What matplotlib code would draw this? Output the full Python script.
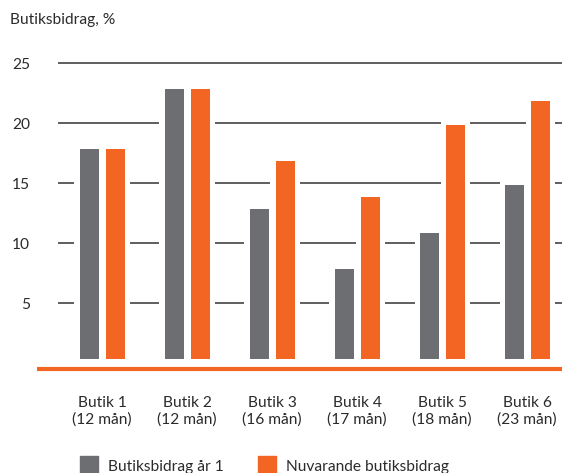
import matplotlib
matplotlib.use("Agg")
import matplotlib.pyplot as plt
from matplotlib.patches import Rectangle
import numpy as np

plt.rcParams['font.family'] = ['Lato', 'DejaVu Sans']

# Data
butiker = ["Butik 1", "Butik 2", "Butik 3", "Butik 4", "Butik 5", "Butik 6"]
manader = ["12 mån", "12 mån", "16 mån", "17 mån", "18 mån", "23 mån"]
bidrag_ar1 = [17.8, 22.8, 12.8, 7.8, 10.8, 14.8]
bidrag_nu = [17.8, 22.8, 16.8, 13.8, 19.8, 21.8]
serie_namn = ["Butiksbidrag år 1", "Nuvarande butiksbidrag"]
y_ticks = [5, 10, 15, 20, 25]

gray = '#6d6e71'
orange = '#f26522'
txt = '#2b2b2b'
fs = 11.2
W, H = 562, 473

fig = plt.figure(figsize=(W / 100, H / 100), dpi=100)
ax = fig.add_axes([37 / W, (H - 372) / H, 1 - 37 / W, 332 / H])
ax.set_xlim(-0.765, 5.41)
ax.set_ylim(-0.75, 26.92)

x = np.arange(len(butiker))
bw = 0.2235
off = 0.153
base = 0.33
padx = 0.06
pady = 0.42

# gridlines
ax.hlines(y_ticks, -0.52, 5.41, color='#333333', lw=1.1, zorder=1)

# white halo behind bars so gridlines break around them
for vals, sign in [(bidrag_ar1, -1), (bidrag_nu, 1)]:
    v = np.array(vals)
    ax.bar(x + sign * off, v - base + pady, bottom=base, width=bw + 2 * padx,
           color='white', zorder=2)
ax.bar(x - off, np.array(bidrag_ar1) - base, bottom=base, width=bw, color=gray, zorder=3)
ax.bar(x + off, np.array(bidrag_nu) - base, bottom=base, width=bw, color=orange, zorder=3)

# orange baseline
ax.axhline(-0.5, color=orange, lw=3, zorder=4)

for s in ax.spines.values():
    s.set_visible(False)
ax.set_yticks(y_ticks)
ax.set_yticklabels([str(t) for t in y_ticks], fontsize=fs, color=txt)
ax.set_xticks(x)
ax.set_xticklabels([f"{b}\n({m})" for b, m in zip(butiker, manader)],
                   fontsize=fs, color=txt)
for t in ax.get_xticklabels():
    t.set_linespacing(1.2)
ax.tick_params(axis='both', length=0)
ax.tick_params(axis='y', pad=5)
ax.tick_params(axis='x', pad=17)

fig.text(10 / W, 1 - 20 / H, "Butiksbidrag, %", fontsize=fs, color=txt,
         ha='left', va='center')

# legend
for i, (namn, c) in enumerate(zip(serie_namn, [gray, orange])):
    x0 = [80, 258][i]
    fig.patches.append(Rectangle((x0 / W, 0), 18 / W, 17 / H, color=c,
                                 transform=fig.transFigure, figure=fig))
    fig.text((x0 + 28) / W, 6 / H, namn, fontsize=fs, color=txt,
             ha='left', va='center')

fig.savefig("out.png", dpi=100)
